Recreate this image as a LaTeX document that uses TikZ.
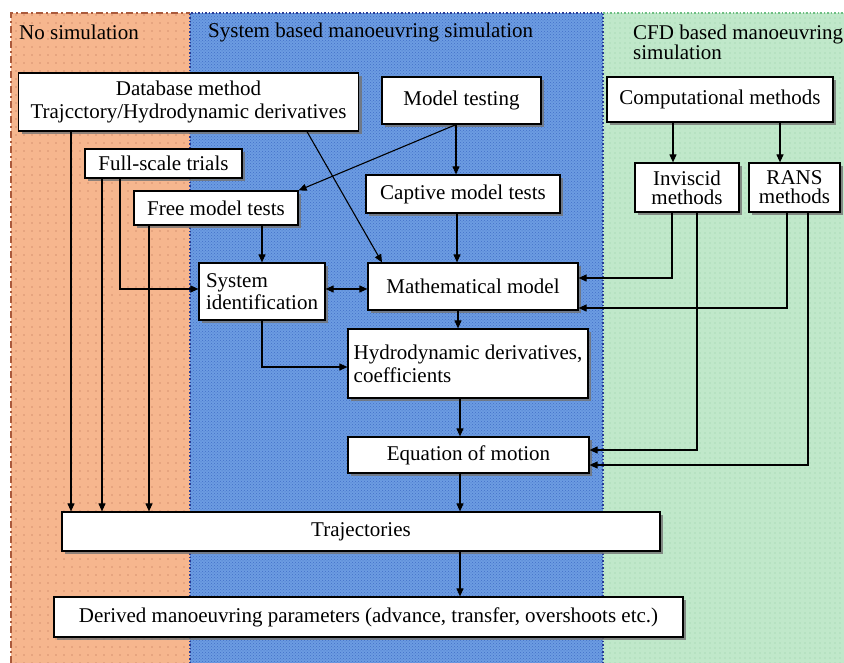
\documentclass[tikz,border=0pt]{standalone}
\usepackage{fontspec}
\setmainfont{Liberation Serif}
\usetikzlibrary{arrows.meta,shadows,patterns,patterns.meta}
\definecolor{orbg}{RGB}{246,182,142}
\definecolor{ordot}{RGB}{214,146,112}
\definecolor{orline}{RGB}{170,90,60}
\definecolor{blbg}{RGB}{108,156,226}
\definecolor{bldot}{RGB}{66,112,200}
\definecolor{blline}{RGB}{40,60,150}
\definecolor{grbg}{RGB}{192,232,202}
\definecolor{grdot}{RGB}{150,208,165}
\definecolor{grline}{RGB}{110,190,130}
\begin{document}
\begin{tikzpicture}[x=1pt,y=-1pt,
  font=\fontsize{21}{23}\selectfont,
  box/.style={draw=black, line width=1.2pt, fill=white, inner sep=0pt, align=center,
    drop shadow={shadow xshift=3pt, shadow yshift=-3pt, fill=black!55, opacity=0.8}},
  lbox/.style={box, align=left},
  title/.style={anchor=west, inner sep=0pt, align=left},
  arr/.style={line width=1.1pt, -{Triangle[length=8pt,width=7pt]}},
  arrtwo/.style={line width=1.1pt, {Triangle[length=8pt,width=7pt]}-{Triangle[length=8pt,width=7pt]}}]
\useasboundingbox (0,0) rectangle (844,663);
\fill[white] (0,0) rectangle (844,663);
% panels
\fill[orbg] (11,13) rectangle (190,663);
\fill[pattern={Dots[distance=8pt,radius=0.8pt]}, pattern color=ordot] (11,13) rectangle (190,663);
\fill[blbg] (190,13) rectangle (603,663);
\fill[pattern=crosshatch dots, pattern color=bldot] (190,13) rectangle (603,663);
\fill[grbg] (603,13) rectangle (844,663);
\fill[pattern={Dots[distance=5pt,radius=0.7pt]}, pattern color=grdot] (603,13) rectangle (844,663);
\draw[orline, line width=1.3pt, dash pattern=on 7pt off 3pt on 2pt off 3pt] (11,663) -- (11,13) -- (190,13);
\draw[grline, line width=1.5pt, dotted] (603,13) -- (844,13);
\draw[blline, line width=1.5pt, dotted] (190,663) -- (190,13) -- (603,13) -- (603,663);
% titles
\node[title] (t1) at (19,32) {No simulation};
\node[title] (t2) at (208,32) {System based manoeuvring simulation};
\node[title, font=\fontsize{21}{20}\selectfont] (t3) at (633,42) {CFD based manoeuvring\\simulation};
% boxes
\node[box, minimum width=340pt, minimum height=58pt] (db) at (188.5,102) {Database method\\Trajcctory/Hydrodynamic derivatives};
\node[box, minimum width=159pt, minimum height=47pt] (mt) at (461.5,100.5) {Model testing};
\node[box, minimum width=226pt, minimum height=45pt] (cm) at (720,99.5) {Computational methods};
\node[box, minimum width=157pt, minimum height=29pt] (fst) at (163.5,163.5) {Full-scale trials};
\node[box, minimum width=194pt, minimum height=38pt] (cap) at (463,194) {Captive model tests};
\node[box, minimum width=104pt, minimum height=49pt, font=\fontsize{21}{19}\selectfont] (inv) at (687,187.5) {Inviscid\\methods};
\node[box, minimum width=91pt, minimum height=49pt, font=\fontsize{21}{19}\selectfont] (rans) at (794.5,187.5) {RANS\\methods};
\node[box, minimum width=164pt, minimum height=34pt] (fmt) at (216,208) {Free model tests};
\node[lbox, minimum width=126pt, minimum height=57pt, font=\fontsize{21}{22}\selectfont] (sid) at (262,291.5) {System\\identification};
\node[box, minimum width=210pt, minimum height=47pt] (mm) at (473,286.5) {Mathematical model};
\node[lbox, minimum width=240pt, minimum height=69pt] (hd) at (468,363.5) {Hydrodynamic derivatives,\\coefficients};
\node[box, minimum width=241pt, minimum height=36pt] (eom) at (468.5,455) {Equation of motion};
\node[box, minimum width=598pt, minimum height=39pt] (traj) at (361,531.5) {Trajectories};
\node[box, minimum width=629pt, minimum height=40pt] (der) at (368.5,617) {Derived manoeuvring parameters (advance, transfer, overshoots etc.)};
% connectors
\draw[arr] (db.south -| 71,0) -- (traj.north -| 71,0);
\draw[arr] (fst.south -| 102,0) -- (traj.north -| 102,0);
\draw[arr] (fst.south -| 120,0) |- (sid.west |- 0,289);
\draw[arr] (fmt.south -| 149,0) -- (traj.north -| 149,0);
\draw[arr] (sid.north |- fmt.south) -- (sid.north);
\draw[arr] (mt.south -| 456,0) -- (cap.north -| 456,0);
\draw[arr] (mt.south -| 456,0) -- (fmt.north east);
\draw[arr] (db.south -| 307,0) -- (mm.north -| 382,0);
\draw[arr] (cap.south -| 457,0) -- (mm.north -| 457,0);
\draw[arrtwo] (sid.east |- 0,289) -- (mm.west |- 0,289);
\draw[arr] (mm.south -| 458,0) -- (hd.north -| 458,0);
\draw[arr] (sid.south) |- (hd.west |- 0,367);
\draw[arr] (hd.south -| 460,0) -- (eom.north -| 460,0);
\draw[arr] (eom.south -| 460,0) -- (traj.north -| 460,0);
\draw[arr] (traj.south -| 460,0) -- (der.north -| 460,0);
\draw[arr] (cm.south -| 673,0) -- (inv.north -| 673,0);
\draw[arr] (cm.south -| 780,0) -- (rans.north -| 780,0);
\draw[arr] (inv.south -| 672,0) |- (mm.east |- 0,278);
\draw[arr] (rans.south -| 787,0) |- (mm.east |- 0,308);
\draw[arr] (inv.south -| 697,0) |- (eom.east |- 0,450);
\draw[arr] (rans.south -| 808,0) |- (eom.east |- 0,465);
\end{tikzpicture}
\end{document}
